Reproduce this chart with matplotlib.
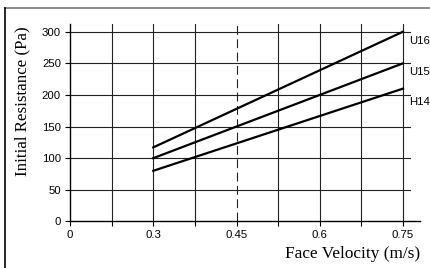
import matplotlib
matplotlib.use('Agg')
import matplotlib.pyplot as plt
from matplotlib.lines import Line2D
import numpy as np

# data
velocity = [0.3, 0.75]
u16 = [117, 300]
u15 = [100, 250]
h14 = [80, 210]
series_names = ['U16', 'U15', 'H14']
major_ticks = [0, 0.3, 0.45, 0.6, 0.75]
minor_ticks = [0.15, 0.375, 0.525, 0.675]
y_ticks = [0, 50, 100, 150, 200, 250, 300]

# x axis is not linear: 0..0.3 takes the same room as 0.3..0.45
_xv = [0, 0.3, 0.75, 1.0]
_xp = [0, 1, 4, 5.6667]


def fwd(x):
    return np.interp(x, _xv, _xp)


def inv(p):
    return np.interp(p, _xp, _xv)


fig = plt.figure(figsize=(4.31, 2.68), dpi=100)
ax = fig.add_axes([0.1624, 0.174, 0.792, 0.736])
ax.set_xscale('function', functions=(fwd, inv))

grid_kw = dict(color='#222222', lw=0.8, zorder=1)
for v in major_ticks[1:] + minor_ticks:
    if v == 0.45:
        ax.axvline(v, color='#222222', lw=0.8, ls=(0, (8, 4)), zorder=1)
    else:
        ax.axvline(v, **grid_kw)
for v in y_ticks[1:]:
    ax.axhline(v, **grid_kw)

for vals in (u16, u15, h14):
    ax.plot(velocity, vals, color='black', lw=1.6, zorder=3)

label_y = [285, 236, 189]
for name, yy in zip(series_names, label_y):
    ax.text(0.7605, yy, name, fontsize=8.2, family='Liberation Sans',
            va='center', ha='left', clip_on=False)

ax.set_xlim(0, inv(4.1))
ax.set_ylim(0, 312)
ax.set_xticks(major_ticks)
ax.set_xticks(minor_ticks, minor=True)
ax.set_xticklabels([str(t) for t in major_ticks])
ax.set_yticks(y_ticks)
ax.tick_params(axis='both', which='both', direction='out', length=3.5, width=0.8,
               labelsize=8.2, pad=3)
ax.tick_params(axis='x', which='minor', labelbottom=False)
for lab in ax.get_xticklabels() + ax.get_yticklabels():
    lab.set_family('Liberation Sans')

for s in ['top', 'right']:
    ax.spines[s].set_visible(False)
ax.spines['left'].set_linewidth(1.0)
ax.spines['bottom'].set_linewidth(1.0)
ax.spines['bottom'].set_bounds(0, inv(4.2))

fig.text(0.051, 0.623, 'Initial Resistance (Pa)', rotation=90, ha='center', va='center',
         family='Liberation Serif', fontsize=12.2)
fig.text(0.817, 0.054, 'Face Velocity (m/s)', ha='center', va='center',
         family='Liberation Serif', fontsize=12.4)

# outer frame, only top and left
fig.add_artist(Line2D([0.0116, 1.0], [0.970, 0.970], transform=fig.transFigure,
                      color='#777777', lw=1.2))
fig.add_artist(Line2D([0.0116, 0.0116], [0.0, 0.970], transform=fig.transFigure,
                      color='black', lw=1.2))

fig.savefig('out.png', dpi=100)
